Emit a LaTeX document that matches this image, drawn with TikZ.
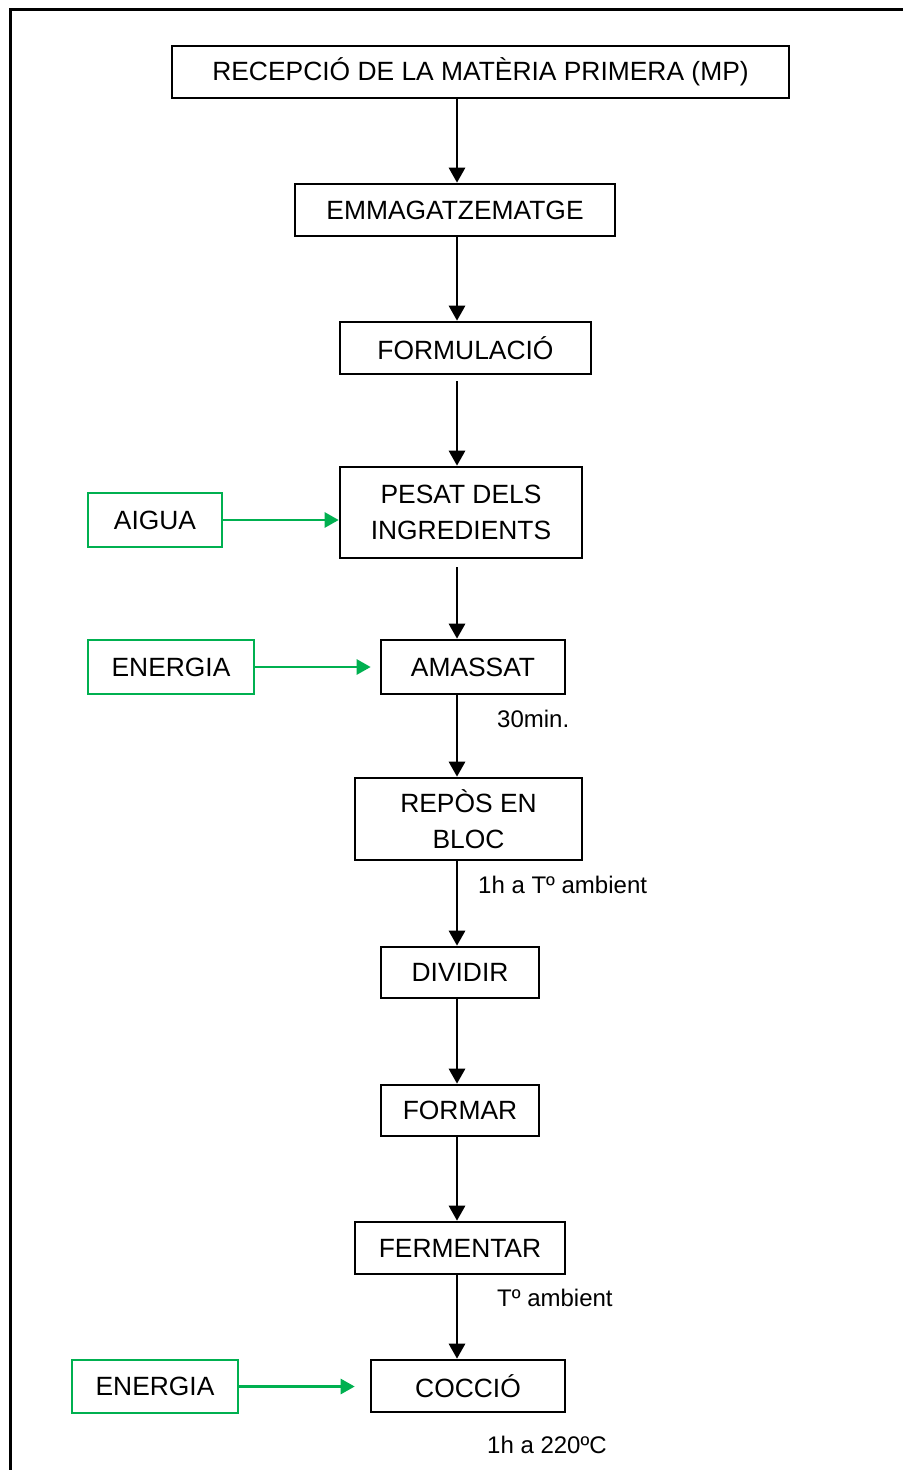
\documentclass[tikz,border=0pt]{standalone}
\usepackage{fontspec}
\setmainfont{Liberation Sans}
\usetikzlibrary{arrows.meta}
\definecolor{flowgreen}{RGB}{0,176,80}
\tikzset{
  stepbox/.style={draw=black, line width=2.6pt, align=center, inner sep=0pt,
    font=\fontsize{26.4}{36}\selectfont},
  inbox/.style={draw=flowgreen, line width=2.2pt, align=center, inner sep=0pt,
    font=\fontsize{26.4}{36}\selectfont},
  flow/.style={line width=2.8pt, -{Triangle[length=15pt,width=16pt]}},
  feed/.style={line width=2.6pt, -{Triangle[length=14pt,width=15pt]}, color=flowgreen},
  note/.style={anchor=west, inner sep=0pt, font=\fontsize{24}{28}\selectfont},
}
\begin{document}
\begin{tikzpicture}[x=1pt,y=-1pt]
\useasboundingbox (0,0) rectangle (903,1470);
% outer frame
\draw[line width=2.8pt] (10.5,1470) -- (10.5,9.5) -- (903,9.5);
% process steps
\node[stepbox, minimum width=617pt, minimum height=52pt] (recep) at (480.5,72) {RECEPCIÓ DE LA MATÈRIA PRIMERA (MP)};
\node[stepbox, minimum width=320pt, minimum height=52pt] (emma) at (455,210) {EMMAGATZEMATGE};
\node[stepbox, minimum width=251pt, minimum height=52pt] (form) at (465.5,348) {FORMULACIÓ};
\node[stepbox, minimum width=242pt, minimum height=91pt] (pesat) at (461,512.5) {PESAT DELS\\INGREDIENTS};
\node[stepbox, minimum width=184pt, minimum height=54pt] (amas) at (473,667) {AMASSAT};
\node[stepbox, minimum width=227pt, minimum height=82pt] (repos) at (468.5,819) {REPÒS EN\\BLOC};
\node[stepbox, minimum width=158pt, minimum height=51pt] (divid) at (460,972.5) {DIVIDIR};
\node[stepbox, minimum width=158pt, minimum height=51pt] (formar) at (460,1110.5) {FORMAR};
\node[stepbox, minimum width=210pt, minimum height=52pt] (ferm) at (460,1248) {FERMENTAR};
\node[stepbox, minimum width=194pt, minimum height=52pt] (cocc) at (468,1386) {COCCIÓ};
% inputs
\node[inbox, minimum width=134pt, minimum height=54pt] (aigua) at (155,520) {AIGUA};
\node[inbox, minimum width=166pt, minimum height=54pt] (ener1) at (171,667) {ENERGIA};
\node[inbox, minimum width=166pt, minimum height=53pt] (ener2) at (155,1386.5) {ENERGIA};
% main line
\coordinate (sp) at (457,0);
\draw[flow] (recep.south -| sp) -- (emma.north -| sp);
\draw[flow] (emma.south -| sp) -- (form.north -| sp);
\draw[flow] ([yshift=-6pt]form.south -| sp) -- (pesat.north -| sp);
\draw[flow] ([yshift=-8pt]pesat.south -| sp) -- (amas.north -| sp);
\draw[flow] (amas.south -| sp) -- (repos.north -| sp);
\draw[flow] (repos.south -| sp) -- (divid.north -| sp);
\draw[flow] (divid.south -| sp) -- (formar.north -| sp);
\draw[flow] (formar.south -| sp) -- (ferm.north -| sp);
\draw[flow] (ferm.south -| sp) -- (cocc.north -| sp);
% input arrows
\draw[feed] (aigua.east) -- (pesat.west |- aigua.east);
\draw[feed] (ener1.east) -- ([xshift=-9pt]amas.west);
\draw[feed] (ener2.east) -- ([xshift=-15pt]cocc.west |- ener2.east);
% conditions
\node[note] (n1) at (497,719) {30min.};
\node[note] (n2) at (478,885) {1h a Tº ambient};
\node[note] (n3) at (497,1298) {Tº ambient};
\node[note] (n4) at (487,1445) {1h a 220ºC};
\end{tikzpicture}
\end{document}
